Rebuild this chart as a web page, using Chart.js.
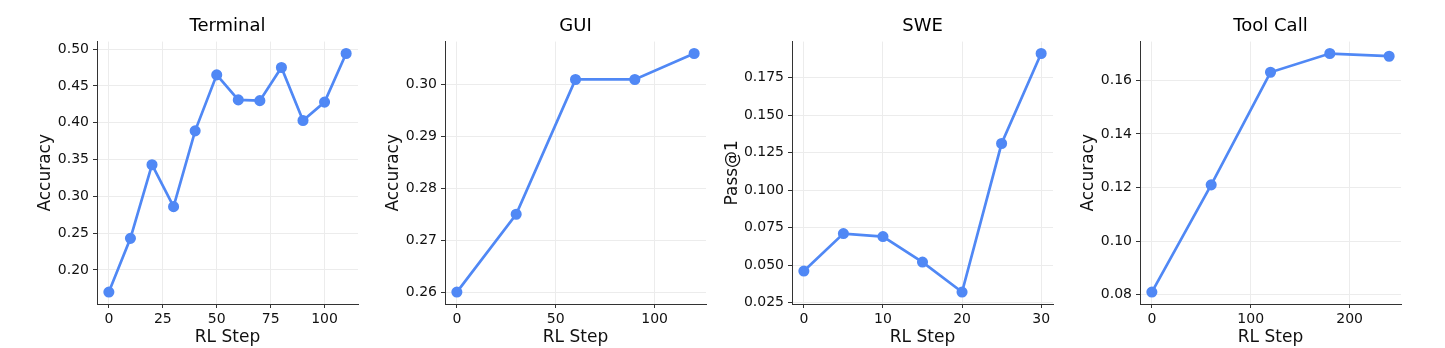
<!DOCTYPE html>
<html>
<head>
<meta charset="utf-8">
<script src="https://cdn.jsdelivr.net/npm/chart.js@4"></script>
<style>
  body { margin: 0; background: #fff; }
  .box { position: absolute; top: 0; width: 362px; height: 348px; }
</style>
</head>
<body>
<div class="box" style="left:0px"><canvas id="c0"></canvas></div>
<div class="box" style="left:348px"><canvas id="c1"></canvas></div>
<div class="box" style="left:695px"><canvas id="c2"></canvas></div>
<div class="box" style="left:1043px"><canvas id="c3"></canvas></div>
<script>
// data
var terminalSteps = [0, 10, 20, 30, 40, 50, 60, 70, 80, 90, 100, 110];
var terminalAcc = [0.170, 0.243, 0.343, 0.286, 0.389, 0.465, 0.431, 0.430, 0.475, 0.403, 0.428, 0.494];
var terminalXTicks = [0, 25, 50, 75, 100];
var terminalYTicks = [0.20, 0.25, 0.30, 0.35, 0.40, 0.45, 0.50];

var guiSteps = [0, 30, 60, 90, 120];
var guiAcc = [0.260, 0.275, 0.301, 0.301, 0.306];
var guiXTicks = [0, 50, 100];
var guiYTicks = [0.26, 0.27, 0.28, 0.29, 0.30];

var sweSteps = [0, 5, 10, 15, 20, 25, 30];
var swePass = [0.046, 0.071, 0.069, 0.052, 0.032, 0.131, 0.191];
var sweXTicks = [0, 10, 20, 30];
var sweYTicks = [0.025, 0.050, 0.075, 0.100, 0.125, 0.150, 0.175];

var toolSteps = [0, 60, 120, 180, 240];
var toolAcc = [0.081, 0.121, 0.163, 0.170, 0.169];
var toolXTicks = [0, 100, 200];
var toolYTicks = [0.08, 0.10, 0.12, 0.14, 0.16];

var blue = '#5088f5';
var font = 'DejaVu Sans';
Chart.defaults.font.family = font;
Chart.defaults.font.size = 14;
Chart.defaults.color = '#111';

function pad(arr) {
    var lo = Math.min.apply(null, arr), hi = Math.max.apply(null, arr);
    var m = (hi - lo) * 0.05;
    return [lo - m, hi + m];
}

function makeChart(id, title, xs, ys, xticks, yticks, ylabel, dec, ytitlePad) {
    var xr = pad(xs), yr = pad(ys);
    return new Chart(document.getElementById(id), {
        type: 'line',
        data: {
            datasets: [{
                data: xs.map(function (x, i) { return {x: x, y: ys[i]}; }),
                borderColor: blue,
                backgroundColor: blue,
                borderWidth: 2.7,
                pointRadius: 4.2,
                pointHoverRadius: 4.2,
                tension: 0
            }]
        },
        options: {
            responsive: true,
            maintainAspectRatio: false,
            animation: false,
            layout: { autoPadding: false, padding: { left: 0, right: 4, top: 0, bottom: 0 } },
            plugins: {
                legend: { display: false },
                tooltip: { enabled: false },
                title: {
                    display: true,
                    fullSize: false,
                    text: title,
                    color: '#000',
                    font: { family: font, size: 18, weight: 'normal', lineHeight: 1.2 },
                    padding: { top: 16, bottom: 4 }
                }
            },
            scales: {
                x: {
                    type: 'linear',
                    min: xr[0], max: xr[1],
                    afterBuildTicks: function (s) { s.ticks = xticks.map(function (v) { return {value: v}; }); },
                    afterFit: function (s) { s.height = 44; },
                    grid: { color: '#ececec', lineWidth: 1, tickColor: '#333', tickLength: 4 },
                    border: { display: true, color: '#333', width: 1 },
                    ticks: { color: '#111', font: { family: font, size: 14 }, padding: 3, maxRotation: 0,
                        callback: function (v) { return String(v); } },
                    title: { display: true, text: 'RL Step', color: '#111',
                        font: { family: font, size: 17 }, padding: { top: 0, bottom: 0 } }
                },
                y: {
                    type: 'linear',
                    min: yr[0], max: yr[1],
                    afterBuildTicks: function (s) { s.ticks = yticks.map(function (v) { return {value: v}; }); },
                    afterFit: function (s) { s.width = 97; },
                    grid: { color: '#ececec', lineWidth: 1, tickColor: '#333', tickLength: 4 },
                    border: { display: true, color: '#333', width: 1 },
                    ticks: { color: '#111', font: { family: font, size: 14 }, padding: 4,
                        callback: function (v) { return v.toFixed(dec); } },
                    title: { display: true, text: ylabel, color: '#111',
                        font: { family: font, size: 17 }, padding: { top: ytitlePad, bottom: 0 } }
                }
            }
        }
    });
}

makeChart('c0', 'Terminal', terminalSteps, terminalAcc, terminalXTicks, terminalYTicks, 'Accuracy', 2, 35);
makeChart('c1', 'GUI', guiSteps, guiAcc, guiXTicks, guiYTicks, 'Accuracy', 2, 35);
makeChart('c2', 'SWE', sweSteps, swePass, sweXTicks, sweYTicks, 'Pass@1', 3, 27);
makeChart('c3', 'Tool Call', toolSteps, toolAcc, toolXTicks, toolYTicks, 'Accuracy', 2, 35);
</script>
</body>
</html>
